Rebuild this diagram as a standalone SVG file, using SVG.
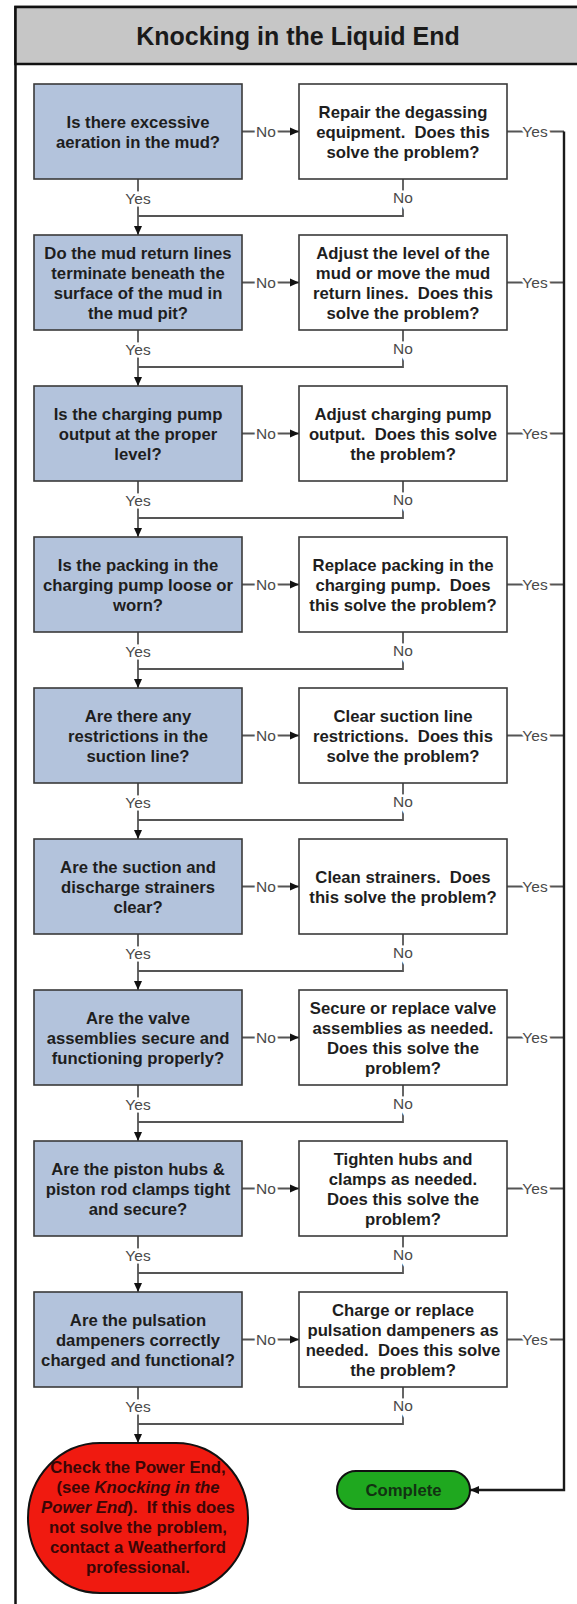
<svg xmlns="http://www.w3.org/2000/svg" width="577" height="1604" viewBox="0 0 577 1604">
<defs>
<style>
.q{fill:#b3c3dc;stroke:#3a3a3a;stroke-width:1.6}
.a{fill:#fff;stroke:#3a3a3a;stroke-width:1.6}
.t{font-family:"Liberation Sans",Arial,sans-serif;font-size:16.7px;font-weight:bold;fill:#1e1e1e;text-anchor:middle;white-space:pre}
.c{fill:none;stroke:#555;stroke-width:1.8}
.k{fill:none;stroke:#1a1a1a;stroke-width:2.4}
.l{font-family:"Liberation Sans",Arial,sans-serif;font-size:15.5px;fill:#4a4a4a;text-anchor:middle;stroke:#fff;stroke-width:5;paint-order:stroke}
</style>
<marker id="ah" markerWidth="10" markerHeight="10" refX="9" refY="5" orient="auto" markerUnits="userSpaceOnUse"><path d="M0,1 L9,5 L0,9 Z" fill="#111"/></marker>
</defs>
<rect x="0" y="0" width="577" height="1604" fill="#fff"/>
<g id="frame">
<rect x="15.5" y="7" width="600" height="1620" fill="none" stroke="#111" stroke-width="2.5"/>
<rect x="15.5" y="7" width="600" height="57" fill="#c6c6c6" stroke="#111" stroke-width="2.5"/>
<text x="298" y="44.5" style="font-family:'Liberation Sans',Arial,sans-serif;font-size:25px;font-weight:bold;fill:#1a1a1a;text-anchor:middle">Knocking in the Liquid End</text>
</g>
<g id="connectors">
<path class="c" d="M242,131.5H299" marker-end="url(#ah)"/>
<path class="c" d="M242,282.5H299" marker-end="url(#ah)"/>
<path class="c" d="M242,433.5H299" marker-end="url(#ah)"/>
<path class="c" d="M242,584.5H299" marker-end="url(#ah)"/>
<path class="c" d="M242,735.5H299" marker-end="url(#ah)"/>
<path class="c" d="M242,886.5H299" marker-end="url(#ah)"/>
<path class="c" d="M242,1037.5H299" marker-end="url(#ah)"/>
<path class="c" d="M242,1188.5H299" marker-end="url(#ah)"/>
<path class="c" d="M242,1339.5H299" marker-end="url(#ah)"/>
<path class="c" d="M507,131.5H564M507,282.5H564M507,433.5H564M507,584.5H564M507,735.5H564M507,886.5H564M507,1037.5H564M507,1188.5H564M507,1339.5H564"/>
<path class="k" d="M564,131.5V1490H470" marker-end="url(#ah)"/>
<path class="c" d="M403,179V216H138M403,330V367H138M403,481V518H138M403,632V669H138M403,783V820H138M403,934V971H138M403,1085V1122H138M403,1236V1273H138M403,1387V1424H138"/>
<path class="c" d="M138,179V235" marker-end="url(#ah)"/>
<path class="c" d="M138,330V386" marker-end="url(#ah)"/>
<path class="c" d="M138,481V537" marker-end="url(#ah)"/>
<path class="c" d="M138,632V688" marker-end="url(#ah)"/>
<path class="c" d="M138,783V839" marker-end="url(#ah)"/>
<path class="c" d="M138,934V990" marker-end="url(#ah)"/>
<path class="c" d="M138,1085V1141" marker-end="url(#ah)"/>
<path class="c" d="M138,1236V1292" marker-end="url(#ah)"/>
<path class="c" d="M138,1387V1443" marker-end="url(#ah)"/>
<g id="labels">
<text class="l" x="266" y="136.5">No</text><text class="l" x="535" y="136.5">Yes</text>
<text class="l" x="266" y="287.5">No</text><text class="l" x="535" y="287.5">Yes</text>
<text class="l" x="266" y="438.5">No</text><text class="l" x="535" y="438.5">Yes</text>
<text class="l" x="266" y="589.5">No</text><text class="l" x="535" y="589.5">Yes</text>
<text class="l" x="266" y="740.5">No</text><text class="l" x="535" y="740.5">Yes</text>
<text class="l" x="266" y="891.5">No</text><text class="l" x="535" y="891.5">Yes</text>
<text class="l" x="266" y="1042.5">No</text><text class="l" x="535" y="1042.5">Yes</text>
<text class="l" x="266" y="1193.5">No</text><text class="l" x="535" y="1193.5">Yes</text>
<text class="l" x="266" y="1344.5">No</text><text class="l" x="535" y="1344.5">Yes</text>
<text class="l" x="138" y="204">Yes</text><text class="l" x="403" y="203">No</text>
<text class="l" x="138" y="355">Yes</text><text class="l" x="403" y="354">No</text>
<text class="l" x="138" y="506">Yes</text><text class="l" x="403" y="505">No</text>
<text class="l" x="138" y="657">Yes</text><text class="l" x="403" y="656">No</text>
<text class="l" x="138" y="808">Yes</text><text class="l" x="403" y="807">No</text>
<text class="l" x="138" y="959">Yes</text><text class="l" x="403" y="958">No</text>
<text class="l" x="138" y="1110">Yes</text><text class="l" x="403" y="1109">No</text>
<text class="l" x="138" y="1261">Yes</text><text class="l" x="403" y="1260">No</text>
<text class="l" x="138" y="1412">Yes</text><text class="l" x="403" y="1411">No</text>
</g>
</g>
<g id="q1"><rect class="q" x="34" y="84" width="208" height="95"/><text class="t"><tspan x="138" y="127.5">Is there excessive</tspan><tspan x="138" y="147.5">aeration in the mud?</tspan></text></g>
<g id="a1"><rect class="a" x="299" y="84" width="208" height="95"/><text class="t"><tspan x="403" y="117.5">Repair the degassing</tspan><tspan x="403" y="137.5">equipment.  Does this</tspan><tspan x="403" y="157.5">solve the problem?</tspan></text></g>
<g id="q2"><rect class="q" x="34" y="235" width="208" height="95"/><text class="t"><tspan x="138" y="258.5">Do the mud return lines</tspan><tspan x="138" y="278.5">terminate beneath the</tspan><tspan x="138" y="298.5">surface of the mud in</tspan><tspan x="138" y="318.5">the mud pit?</tspan></text></g>
<g id="a2"><rect class="a" x="299" y="235" width="208" height="95"/><text class="t"><tspan x="403" y="258.5">Adjust the level of the</tspan><tspan x="403" y="278.5">mud or move the mud</tspan><tspan x="403" y="298.5">return lines.  Does this</tspan><tspan x="403" y="318.5">solve the problem?</tspan></text></g>
<g id="q3"><rect class="q" x="34" y="386" width="208" height="95"/><text class="t"><tspan x="138" y="419.5">Is the charging pump</tspan><tspan x="138" y="439.5">output at the proper</tspan><tspan x="138" y="459.5">level?</tspan></text></g>
<g id="a3"><rect class="a" x="299" y="386" width="208" height="95"/><text class="t"><tspan x="403" y="419.5">Adjust charging pump</tspan><tspan x="403" y="439.5">output.  Does this solve</tspan><tspan x="403" y="459.5">the problem?</tspan></text></g>
<g id="q4"><rect class="q" x="34" y="537" width="208" height="95"/><text class="t"><tspan x="138" y="570.5">Is the packing in the</tspan><tspan x="138" y="590.5">charging pump loose or</tspan><tspan x="138" y="610.5">worn?</tspan></text></g>
<g id="a4"><rect class="a" x="299" y="537" width="208" height="95"/><text class="t"><tspan x="403" y="570.5">Replace packing in the</tspan><tspan x="403" y="590.5">charging pump.  Does</tspan><tspan x="403" y="610.5">this solve the problem?</tspan></text></g>
<g id="q5"><rect class="q" x="34" y="688" width="208" height="95"/><text class="t"><tspan x="138" y="721.5">Are there any</tspan><tspan x="138" y="741.5">restrictions in the</tspan><tspan x="138" y="761.5">suction line?</tspan></text></g>
<g id="a5"><rect class="a" x="299" y="688" width="208" height="95"/><text class="t"><tspan x="403" y="721.5">Clear suction line</tspan><tspan x="403" y="741.5">restrictions.  Does this</tspan><tspan x="403" y="761.5">solve the problem?</tspan></text></g>
<g id="q6"><rect class="q" x="34" y="839" width="208" height="95"/><text class="t"><tspan x="138" y="872.5">Are the suction and</tspan><tspan x="138" y="892.5">discharge strainers</tspan><tspan x="138" y="912.5">clear?</tspan></text></g>
<g id="a6"><rect class="a" x="299" y="839" width="208" height="95"/><text class="t"><tspan x="403" y="882.5">Clean strainers.  Does</tspan><tspan x="403" y="902.5">this solve the problem?</tspan></text></g>
<g id="q7"><rect class="q" x="34" y="990" width="208" height="95"/><text class="t"><tspan x="138" y="1023.5">Are the valve</tspan><tspan x="138" y="1043.5">assemblies secure and</tspan><tspan x="138" y="1063.5">functioning properly?</tspan></text></g>
<g id="a7"><rect class="a" x="299" y="990" width="208" height="95"/><text class="t"><tspan x="403" y="1013.5">Secure or replace valve</tspan><tspan x="403" y="1033.5">assemblies as needed.</tspan><tspan x="403" y="1053.5">Does this solve the</tspan><tspan x="403" y="1073.5">problem?</tspan></text></g>
<g id="q8"><rect class="q" x="34" y="1141" width="208" height="95"/><text class="t"><tspan x="138" y="1174.5">Are the piston hubs &amp;</tspan><tspan x="138" y="1194.5">piston rod clamps tight</tspan><tspan x="138" y="1214.5">and secure?</tspan></text></g>
<g id="a8"><rect class="a" x="299" y="1141" width="208" height="95"/><text class="t"><tspan x="403" y="1164.5">Tighten hubs and</tspan><tspan x="403" y="1184.5">clamps as needed.</tspan><tspan x="403" y="1204.5">Does this solve the</tspan><tspan x="403" y="1224.5">problem?</tspan></text></g>
<g id="q9"><rect class="q" x="34" y="1292" width="208" height="95"/><text class="t"><tspan x="138" y="1325.5">Are the pulsation</tspan><tspan x="138" y="1345.5">dampeners correctly</tspan><tspan x="138" y="1365.5">charged and functional?</tspan></text></g>
<g id="a9"><rect class="a" x="299" y="1292" width="208" height="95"/><text class="t"><tspan x="403" y="1315.5">Charge or replace</tspan><tspan x="403" y="1335.5">pulsation dampeners as</tspan><tspan x="403" y="1355.5">needed.  Does this solve</tspan><tspan x="403" y="1375.5">the problem?</tspan></text></g>
<g id="end"><rect x="28" y="1443" width="220" height="150" rx="72" ry="75" fill="#f01a10" stroke="#111" stroke-width="2"/><text class="t" style="fill:#3a0606"><tspan x="138" y="1473">Check the Power End,</tspan><tspan x="138" y="1493">(see <tspan font-style="italic">Knocking in the</tspan></tspan><tspan x="138" y="1513"><tspan font-style="italic">Power End</tspan>).  If this does</tspan><tspan x="138" y="1533">not solve the problem,</tspan><tspan x="138" y="1553">contact a Weatherford</tspan><tspan x="138" y="1573">professional.</tspan></text></g>
<g id="complete"><rect x="337" y="1471" width="133" height="38" rx="19" ry="19" fill="#1fa81f" stroke="#111" stroke-width="2"/><text class="t" x="403.5" y="1496" style="fill:#123212">Complete</text></g>
</svg>
